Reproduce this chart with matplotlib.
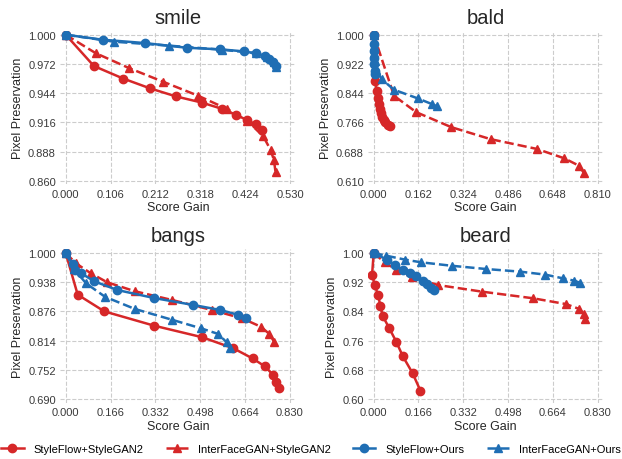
import numpy as np
import matplotlib
matplotlib.use("Agg")
import matplotlib.pyplot as plt

plt.rcParams["font.family"] = ["Liberation Sans", "DejaVu Sans"]

RED = "#d62728"
BLUE = "#1f6eb4"

attrs = ["smile", "bald", "bangs", "beard"]
x_max = {"smile": 0.530, "bald": 0.810, "bangs": 0.830, "beard": 0.830}
y_min = {"smile": 0.860, "bald": 0.610, "bangs": 0.690, "beard": 0.600}

# smile
smile_sf_sg_x = [0, 0.0666, 0.1356, 0.1998, 0.261, 0.321, 0.369, 0.4036, 0.4294, 0.449, 0.463]
smile_sf_sg_y = [1.0, 0.970, 0.958, 0.9485, 0.9408, 0.935, 0.929, 0.923, 0.918, 0.914, 0.909]
smile_if_sg_x = [0, 0.0705, 0.1497, 0.2296, 0.313, 0.382, 0.429, 0.467, 0.484, 0.492, 0.496]
smile_if_sg_y = [1.0, 0.9824, 0.968, 0.955, 0.9415, 0.9287, 0.9175, 0.9025, 0.8897, 0.880, 0.868]
smile_sf_ours_x = [0, 0.087, 0.187, 0.286, 0.365, 0.4215, 0.450, 0.470, 0.480, 0.489, 0.496]
smile_sf_ours_y = [1.0, 0.9952, 0.992, 0.9875, 0.986, 0.984, 0.982, 0.980, 0.9767, 0.9734, 0.970]
smile_if_ours_x = [0, 0.1144, 0.245, 0.369, 0.449, 0.476, 0.492, 0.4975]
smile_if_ours_y = [1.0, 0.9933, 0.9895, 0.9856, 0.9824, 0.979, 0.974, 0.969]

# bald
bald_sf_sg_x = [0, 0.0047, 0.0118, 0.0154, 0.019, 0.0225, 0.026, 0.031, 0.0355, 0.0415, 0.050, 0.058]
bald_sf_sg_y = [1.0, 0.877, 0.850, 0.830, 0.815, 0.8015, 0.790, 0.781, 0.773, 0.766, 0.760, 0.757]
bald_if_sg_x = [0, 0.0734, 0.154, 0.281, 0.423, 0.590, 0.689, 0.743, 0.760]
bald_if_sg_y = [1.0, 0.837, 0.793, 0.753, 0.721, 0.695, 0.670, 0.650, 0.631]
bald_sf_ours_x = [0, 0.0005, 0.001, 0.0015, 0.002, 0.003, 0.004]
bald_sf_ours_y = [1.0, 0.975, 0.957, 0.939, 0.922, 0.904, 0.895]
bald_if_ours_x = [0, 0.001, 0.002, 0.004, 0.006, 0.010, 0.0284, 0.0734, 0.159, 0.2097, 0.230]
bald_if_ours_y = [1.0, 0.970, 0.950, 0.930, 0.915, 0.905, 0.8816, 0.853, 0.830, 0.815, 0.8087]

# bangs
bangs_sf_sg_x = [0, 0.0444, 0.143, 0.327, 0.506, 0.621, 0.692, 0.738, 0.766, 0.779, 0.789]
bangs_sf_sg_y = [1.0, 0.9115, 0.876, 0.8457, 0.821, 0.7975, 0.776, 0.759, 0.742, 0.727, 0.7125]
bangs_if_sg_x = [0, 0.038, 0.0926, 0.154, 0.257, 0.395, 0.5406, 0.654, 0.722, 0.754, 0.771]
bangs_if_sg_y = [1.0, 0.978, 0.957, 0.9377, 0.9186, 0.900, 0.879, 0.861, 0.8435, 0.828, 0.8117]
bangs_sf_ours_x = [0, 0.026, 0.035, 0.0555, 0.106, 0.191, 0.327, 0.4727, 0.5714, 0.637, 0.6677]
bangs_sf_ours_y = [1.0, 0.9766, 0.9645, 0.9575, 0.9398, 0.9214, 0.9044, 0.8896, 0.879, 0.869, 0.861]
bangs_if_ours_x = [0, 0.031, 0.0753, 0.1456, 0.2567, 0.3925, 0.501, 0.565, 0.596, 0.608]
bangs_if_ours_y = [1.0, 0.966, 0.9356, 0.907, 0.881, 0.8584, 0.840, 0.828, 0.810, 0.7975]

# beard
beard_sf_sg_x = [0, -0.006, 0.0037, 0.016, 0.0246, 0.033, 0.0578, 0.0836, 0.108, 0.144, 0.173]
beard_sf_sg_y = [1.0, 0.9407, 0.912, 0.885, 0.856, 0.828, 0.7937, 0.757, 0.717, 0.671, 0.623]
beard_if_sg_x = [0, 0.0406, 0.0836, 0.141, 0.240, 0.402, 0.590, 0.713, 0.762, 0.778, 0.783]
beard_if_sg_y = [1.0, 0.9744, 0.954, 0.933, 0.912, 0.894, 0.876, 0.860, 0.8466, 0.833, 0.819]
beard_sf_ours_x = [0, 0.049, 0.0787, 0.107, 0.135, 0.1586, 0.181, 0.199, 0.214, 0.224]
beard_sf_ours_y = [1.0, 0.9817, 0.967, 0.954, 0.945, 0.936, 0.924, 0.915, 0.903, 0.8996]
beard_if_ours_x = [0, 0.0455, 0.117, 0.176, 0.289, 0.418, 0.541, 0.636, 0.701, 0.744, 0.766]
beard_if_ours_y = [1.0, 0.9927, 0.9817, 0.9744, 0.965, 0.956, 0.949, 0.9407, 0.9306, 0.924, 0.918]

series = {
    "smile": [(smile_sf_sg_x, smile_sf_sg_y), (smile_if_sg_x, smile_if_sg_y),
              (smile_sf_ours_x, smile_sf_ours_y), (smile_if_ours_x, smile_if_ours_y)],
    "bald": [(bald_sf_sg_x, bald_sf_sg_y), (bald_if_sg_x, bald_if_sg_y),
             (bald_sf_ours_x, bald_sf_ours_y), (bald_if_ours_x, bald_if_ours_y)],
    "bangs": [(bangs_sf_sg_x, bangs_sf_sg_y), (bangs_if_sg_x, bangs_if_sg_y),
              (bangs_sf_ours_x, bangs_sf_ours_y), (bangs_if_ours_x, bangs_if_ours_y)],
    "beard": [(beard_sf_sg_x, beard_sf_sg_y), (beard_if_sg_x, beard_if_sg_y),
              (beard_sf_ours_x, beard_sf_ours_y), (beard_if_ours_x, beard_if_ours_y)],
}

labels = ["StyleFlow+StyleGAN2", "InterFaceGAN+StyleGAN2", "StyleFlow+Ours", "InterFaceGAN+Ours"]
styles = [(RED, "-", "o"), (RED, "--", "^"), (BLUE, "-", "o"), (BLUE, "--", "^")]

# axes boxes in figure fractions [left, bottom, width, height]
boxes = {
    "smile": [0.0966, 0.597, 0.3786, 0.3333],
    "bald": [0.5918, 0.597, 0.378, 0.3333],
    "bangs": [0.0966, 0.1225, 0.3786, 0.3333],
    "beard": [0.5918, 0.1225, 0.378, 0.3333],
}

fig = plt.figure(figsize=(6.22, 4.6), dpi=100)
handles = []
for name in attrs:
    ax = fig.add_axes(boxes[name])
    for (xs, ys), (c, ls, mk), lab in zip(series[name], styles, labels):
        h, = ax.plot(xs, ys, color=c, linestyle=ls, marker=mk, markersize=6,
                     linewidth=1.8, label=lab)
        if name == "smile":
            handles.append(h)
    xm, ym = x_max[name], y_min[name]
    xt = np.linspace(0, xm, 6)
    yt = np.linspace(ym, 1.0, 6)
    ax.set_xticks(xt)
    ax.set_yticks(yt)
    ax.set_xticklabels([f"{v:.3f}" for v in xt])
    ydig = 2 if name == "beard" else 3
    ax.set_yticklabels([f"{v:.{ydig}f}" for v in yt])
    ax.set_xlim(-0.025 * xm, xm * 1.025)
    ax.set_ylim(ym - 0.025 * (1 - ym), 1 + 0.025 * (1 - ym))
    ax.grid(True, linestyle="--", color="#cccccc", linewidth=0.8)
    ax.set_axisbelow(True)
    for s in ax.spines.values():
        s.set_visible(False)
    ax.tick_params(length=0, labelsize=8, colors="#3a3a3a", pad=3)
    ax.set_title(name, fontsize=14.5, color="#262626", pad=6)
    ax.set_xlabel("Score Gain", fontsize=9, color="#262626", labelpad=2)
    ax.set_ylabel("Pixel Preservation", fontsize=9, color="#262626", labelpad=3)

fig.legend(handles=handles, loc="lower center", ncol=4, frameon=False, fontsize=8,
           bbox_to_anchor=(0.5, -0.005), handlelength=2.0, columnspacing=2.0,
           handletextpad=0.9, borderpad=0.2)

fig.savefig("out.png", dpi=100)
